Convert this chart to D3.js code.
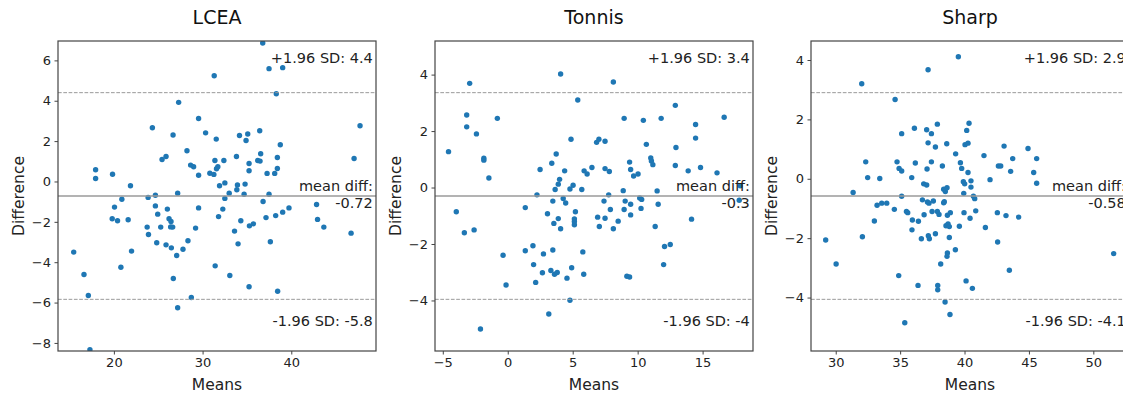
<!DOCTYPE html>
<html>
<head>
<meta charset="utf-8">
<script src="https://cdn.jsdelivr.net/npm/d3@7"></script>
<style>
  html, body { margin: 0; padding: 0; background: #fff; }
  svg { display: block; font-family: "DejaVu Sans", sans-serif; }
</style>
</head>
<body>
<svg id="chart" width="1123" height="399"></svg>
<script>
// ---------- DATA ----------
const titles = ["LCEA", "Tonnis", "Sharp"];

const lceaMeans = [15.47,16.63,17.12,17.3,17.94,17.94,19.85,19.81,20.07,20.41,20.9,20.79,21.61,21.87,21.99,23.86,23.75,23.9,24.34,24.68,24.68,24.83,24.94,25.28,25.43,25.88,25.88,26.03,26.22,26.44,26.4,26.63,26.48,26.67,26.7,27.08,27.19,27.3,27.19,27.79,28.24,28.35,28.65,28.99,28.73,29.21,29.55,29.55,29.55,30.34,30.82,31.27,31.31,31.39,31.54,31.57,31.72,31.42,31.8,31.91,32.28,32.4,32.51,32.51,33.0,33.07,33.6,33.82,33.86,33.93,34.0,34.16,34.31,34.68,34.79,34.9,35.09,35.24,35.24,35.24,35.28,35.73,36.44,36.22,36.48,36.55,36.78,36.82,37.15,37.27,37.49,37.49,37.64,38.13,38.24,38.31,38.43,38.43,38.46,38.76,39.03,39.03,39.74,42.85,42.96,43.67,46.74,47.08,47.75];
const lceaDiffs = [-3.5,-4.61,-5.65,-8.33,0.58,0.15,0.36,-1.85,-1.27,-1.95,-0.88,-4.25,-1.9,-0.21,-3.45,-0.79,-2.26,-2.63,2.66,-0.68,-1.21,-3.04,-1.62,-2.26,1.09,1.24,-3.14,-1.37,-1.85,-1.98,-2.25,-2.26,-3.29,2.3,-4.81,-3.67,-0.58,3.92,-6.26,-3.36,1.52,-2.94,0.81,0.73,-5.75,-2.31,3.12,0.31,-1.31,2.41,0.41,0.35,5.24,1.04,2.1,0.63,0.73,-4.18,-1.74,-0.21,-1.37,1.04,-0.07,-0.84,-0.58,-4.66,-2.46,1.24,-0.41,-0.17,-3.09,2.28,-1.95,-0.63,-0.13,2.03,2.35,0.89,0.53,-5.22,-2.2,-2.1,2.51,1.04,1.01,1.37,6.86,-0.99,-1.79,0.4,5.59,-0.63,-2.99,0.4,-1.69,4.35,1.19,0.64,-5.44,1.82,5.64,-1.52,-1.31,-1.14,-1.88,-2.26,-2.56,1.14,2.76];

const tonnisMeans = [-4.56,-3.96,-3.34,-3.16,-3.16,-2.93,-2.59,-2.41,-2.1,-1.84,-1.84,-1.45,-0.8,-0.36,-0.13,1.35,1.35,1.94,1.99,2.15,2.25,2.49,2.75,2.67,3.06,3.16,3.32,3.39,3.47,3.47,3.55,3.6,3.65,3.73,3.81,3.89,3.89,3.99,4.07,4.07,4.27,4.38,4.46,4.56,4.79,4.79,4.87,4.92,5.03,5.13,5.13,5.13,5.21,5.39,5.7,5.78,5.85,5.88,6.11,6.48,6.84,6.92,7.02,7.05,7.41,7.49,7.49,7.49,7.77,7.82,7.9,8.13,8.13,8.5,8.89,8.96,8.96,9.04,9.17,9.38,9.38,9.46,9.46,9.46,9.69,10.03,10.16,10.31,10.26,10.44,10.67,11.01,11.06,11.17,11.35,11.5,11.58,11.81,12.0,12.07,12.51,12.9,12.95,12.9,13.89,14.15,14.46,14.46,14.84,16.11,16.66,17.9,17.82];
const tonnisDiffs = [1.27,-0.86,-1.6,2.57,2.15,3.69,-1.5,1.9,-5.01,1.04,0.97,0.34,2.45,-2.4,-3.45,-0.71,-2.24,-2.06,-2.73,-3.36,-0.26,0.64,-2.35,-3.02,-0.93,-4.48,-2.94,0.86,-0.48,-2.21,-1.27,-3.07,-0.07,1.19,-3.01,-1.1,0.12,0.29,4.02,-1.46,-0.39,0.59,-0.55,-3.21,-3.99,-0.05,1.71,-2.84,0.08,-1.11,-1.32,-1.2,-0.86,3.1,-0.07,-2.28,-3.07,0.59,0.48,0.71,1.6,-1.05,1.71,-1.38,-0.48,1.64,0.67,-1.09,-0.26,0.57,-0.78,3.74,-1.46,-1.19,-0.11,2.45,-0.78,-0.48,-3.14,-3.17,0.9,0.64,-0.59,-0.97,0.41,0.48,-0.37,-0.42,-0.74,2.38,1.53,1.05,0.94,0.81,-1.38,-0.12,-0.59,2.45,-2.73,-2.09,-2.02,2.91,1.42,0.78,0.59,-1.12,2.23,1.75,0.71,0.52,2.49,0.06,-0.45];

const sharpMeans = [29.22,30.03,31.35,32.02,32.07,32.33,32.48,33.0,33.21,33.42,33.57,33.96,34.55,34.61,34.76,34.89,34.92,35.12,35.12,35.12,35.36,35.49,35.59,35.9,35.92,35.95,36.11,36.18,36.39,36.42,36.65,36.73,36.83,36.86,37.06,37.06,37.09,37.12,37.17,37.17,37.19,37.27,37.24,37.43,37.43,37.48,37.58,37.74,37.74,37.89,37.89,37.92,37.92,38.02,38.15,38.28,38.38,38.38,38.43,38.49,38.51,38.56,38.62,38.64,38.67,38.67,38.64,38.72,38.82,38.82,38.87,38.9,39.29,39.31,39.52,39.6,39.68,39.78,39.91,39.94,39.96,40.01,40.04,40.12,40.17,40.27,40.27,40.35,40.43,40.5,40.5,40.61,40.69,40.79,40.87,41.51,41.62,41.98,42.55,42.57,42.63,42.81,43.07,43.22,43.48,43.58,43.74,44.2,44.93,45.37,45.6,45.6,51.58];
const sharpDiffs = [-2.06,-2.87,-0.46,3.2,-1.95,0.57,0.04,-1.42,-0.89,0.01,-0.82,-0.82,-1.03,2.67,0.57,-3.26,0.35,0.26,1.52,-0.59,-4.85,-1.1,-1.14,0.04,-1.72,-1.39,1.7,0.53,-3.59,-1.43,-2.02,-0.71,-0.17,-1.21,-0.21,1.65,0.33,-0.78,3.67,1.21,-1.92,-2.02,-0.82,1.52,0.57,-1.1,-0.75,1.07,-1.85,1.84,-1.1,-3.59,-3.74,-1.2,-2.87,0.43,-0.35,-0.81,-0.77,-4.15,-0.43,-1.58,1.18,-0.3,-1.23,-2.5,-2.61,-1.52,-1.61,-1.98,-4.57,-1.14,-2.39,0.84,4.11,-1.6,0.54,0.35,-0.1,-0.49,-1.14,-0.17,1.15,-3.44,1.63,1.2,0.21,1.87,-1.33,-0.07,-0.28,-3.69,-0.59,-0.67,-1.08,0.78,-1.64,-0.03,-1.14,-2.13,0.43,0.43,1.1,-1.24,-3.08,0.25,0.68,-1.29,1.02,0.21,0.68,-0.15,-2.52];

// summary statistics per panel: mean difference and 1.96*SD limit
const meanDiff = [-0.72, -0.30, -0.58];
const loaHalf = [5.12, 3.66, 3.48];
const sdLimit = 1.96;

// axis x-limits (autoscaled in the original)
const xLimits = [[13.7, 49.55], [-5.6, 18.88], [28.08, 52.77]];
const xTicks = [[20, 30, 40], [-5, 0, 5, 10, 15], [30, 35, 40, 45, 50]];
const yTicks = [[-8, -6, -4, -2, 0, 2, 4, 6], [-4, -2, 0, 2, 4], [-4, -2, 0, 2, 4]];

const panelMeans = [lceaMeans, tonnisMeans, sharpMeans];
const panelDiffs = [lceaDiffs, tonnisDiffs, sharpDiffs];

// ---------- LAYOUT ----------
const svg = d3.select("#chart");
const panelLefts = [58, 435, 811];
const panelTop = 41, W = 318, H = 310;
const pointColor = "#1f77b4";
const spineColor = "#444";
const lineColor = "#9a9a9a";

const loc = d3.formatLocale({decimal: ".", thousands: ",", grouping: [3], currency: ["", ""], minus: "-"});
const fmtG = loc.format(".2~g");
const fmtMean = loc.format(".2~f");
const tickFmt = d3.format("d"); // uses unicode minus like matplotlib

for (let p = 0; p < 3; p++) {
  const L = panelLefts[p];
  const g = svg.append("g").attr("transform", `translate(${L},${panelTop})`);
  const x = d3.scaleLinear().domain(xLimits[p]).range([0, W]);
  const m = meanDiff[p], half = 1.5 * loaHalf[p];
  const y = d3.scaleLinear().domain([m - half, m + half]).range([H, 0]);
  const upper = m + loaHalf[p], lower = m - loaHalf[p];

  const clipId = "clip" + p;
  g.append("clipPath").attr("id", clipId)
    .append("rect").attr("x", 0).attr("y", 0).attr("width", W).attr("height", H);

  const plot = g.append("g").attr("clip-path", `url(#${clipId})`);

  // scatter
  plot.selectAll("circle").data(panelMeans[p].map((v, i) => [v, panelDiffs[p][i]]))
    .enter().append("circle")
    .attr("cx", d => x(d[0])).attr("cy", d => y(d[1]))
    .attr("r", 2.7).attr("fill", pointColor);

  // mean line
  plot.append("line").attr("x1", 0).attr("x2", W)
    .attr("y1", y(m)).attr("y2", y(m))
    .attr("stroke", lineColor).attr("stroke-width", 1.3);
  // limit lines
  [lower, upper].forEach(v => {
    plot.append("line").attr("x1", 0).attr("x2", W)
      .attr("y1", y(v)).attr("y2", y(v))
      .attr("stroke", lineColor).attr("stroke-width", 1)
      .attr("stroke-dasharray", "3.7,1.6");
  });

  // axes
  const xa = g.append("g").attr("transform", `translate(0,${H})`)
    .call(d3.axisBottom(x).tickValues(xTicks[p]).tickFormat(tickFmt).tickSize(3.5).tickPadding(3.5));
  const ya = g.append("g")
    .call(d3.axisLeft(y).tickValues(yTicks[p]).tickFormat(tickFmt).tickSize(3.5).tickPadding(3.5));
  [xa, ya].forEach(a => {
    a.select(".domain").remove();
    a.selectAll("line").attr("stroke", spineColor).attr("stroke-width", 1);
    a.selectAll("text").attr("fill", "#222").style("font-size", "13px").style("font-family", "DejaVu Sans");
  });

  // spines
  g.append("rect").attr("x", 0).attr("y", 0).attr("width", W).attr("height", H)
    .attr("fill", "none").attr("stroke", spineColor).attr("stroke-width", 1.2);

  // annotations
  const ax = 0.99 * W;
  const ann = g.append("g").attr("fill", "#222").style("font-size", "14.5px").attr("text-anchor", "end");
  ann.append("text").attr("x", ax).attr("y", H * 0.08 - 3).text(`+${sdLimit} SD: ${fmtG(upper)}`);
  ann.append("text").attr("x", ax).attr("y", H * 0.93 - 3).text(`-${sdLimit} SD: ${fmtG(lower)}`);
  ann.append("text").attr("x", ax).attr("y", H * 0.5 - 5).text("mean diff:");
  ann.append("text").attr("x", ax).attr("y", H * 0.5 + 12).text(fmtMean(m));

  // axis labels
  g.append("text").attr("x", W / 2).attr("y", H + 39).attr("text-anchor", "middle")
    .attr("fill", "#222").style("font-size", "15.5px").text("Means");
  g.append("text").attr("transform", `translate(-39,${H / 2}) rotate(-90)`)
    .attr("dy", "0.35em").attr("text-anchor", "middle")
    .attr("fill", "#222").style("font-size", "15.5px").text("Difference");

  // title
  g.append("text").attr("x", W / 2).attr("y", -17).attr("text-anchor", "middle")
    .attr("fill", "#111").style("font-size", "19px").text(titles[p]);
}
</script>
</body>
</html>
